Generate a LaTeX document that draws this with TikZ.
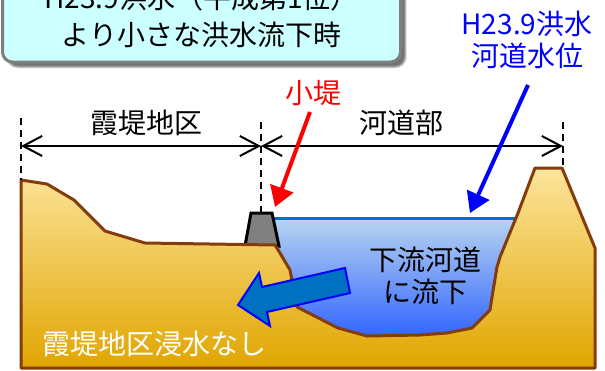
\documentclass[tikz,border=0pt]{standalone}
\usepackage{fontspec}
\newfontfamily\jp{Noto Sans CJK JP}
\usetikzlibrary{arrows.meta,shadows.blur}

\definecolor{titlefill}{HTML}{CCFFFF}
\definecolor{titleedge}{HTML}{7F7F7F}
\definecolor{soiledge}{HTML}{843C0C}
\definecolor{soiltop}{HTML}{FCE49C}
\definecolor{soilbot}{HTML}{E0A600}
\definecolor{watertop}{HTML}{B8D4F0}
\definecolor{waterbot}{HTML}{3366FF}
\definecolor{waterline}{HTML}{0070C0}
\definecolor{flowfill}{HTML}{0070C0}
\definecolor{leveegray}{HTML}{808080}

\begin{document}
\begin{tikzpicture}[x=1pt,y=-1pt,
  lbl/.style={inner sep=0pt, font=\jp\fontsize{28}{32}\selectfont},
  titlebox/.style={draw=titleedge, line width=3pt, fill=titlefill,
    rounded corners=10pt, minimum width=398pt, minimum height=92pt,
    inner sep=0pt, align=center, font=\jp\fontsize{28}{37}\selectfont,
    blur shadow={shadow xshift=5pt, shadow yshift=-5pt, shadow opacity=55}},
  soil/.style={draw=soiledge, line width=3pt, line join=round,
    top color=soiltop, bottom color=soilbot},
  water/.style={top color=watertop, bottom color=waterbot},
  surface/.style={draw=waterline, line width=3pt},
  levee/.style={draw=black, line width=3pt, fill=leveegray, line join=miter},
  flow/.style={draw=blue, line width=2pt, fill=flowfill, line join=miter},
  guide/.style={draw=black, line width=2pt, dash pattern=on 7pt off 5pt},
  dim/.style={draw=black, line width=2pt,
    {Straight Barb[length=19pt,width=20pt]}-{Straight Barb[length=19pt,width=20pt]}},
  ptr/.style={line width=4pt, -{Triangle[length=20pt,width=24pt]}}
]
\useasboundingbox (0,0) rectangle (605,370);

% heading box
\node[titlebox] (title) at (201.5,16) {H23.9洪水（平成第1位）\\より小さな洪水流下時};

% river water
\fill[water] (265,218) -- (522,218) -- (500,257) -- (497,267) -- (492,297)
  -- (490,310) -- (472,328) -- (447,333) -- (420,335) -- (367,336)
  -- (338,328) -- (297,307) -- (290,270) -- (280,253) -- (270,245) -- cycle;
\draw[surface] (272,218) -- (521,218);

% small levee
\draw[levee] (245,246) -- (251,213) -- (272,213) -- (279,246) -- cycle;

% ground profile
\draw[soil] (21,368) -- (21,180) -- (47,184) -- (74,200) -- (105,231)
  -- (145,243) -- (275,245) -- (280,253) -- (290,270) -- (297,307)
  -- (338,328) -- (367,336) -- (420,335) -- (447,333) -- (472,328)
  -- (490,310) -- (492,297) -- (497,267) -- (500,257) -- (518,213)
  -- (535,168) -- (562,168) -- (595,248) -- (595,368) -- cycle;

% flow towards the downstream channel
\draw[flow] (238,305) -- (259,273) -- (262,287) -- (345,268) -- (350,293)
  -- (267,312) -- (270,326) -- cycle;

% extent markers
\draw[guide] (21,118) -- (21,180);
\draw[guide] (261,122) -- (261,212);
\draw[guide] (563,122) -- (563,168);
\coordinate (dL) at (21,146);
\coordinate (dM) at (261,146);
\coordinate (dR) at (563,146);
\draw[dim] (dL) -- (dM);
\draw[dim] (dM) -- (dR);

% labels
\node[lbl] (zoneL) at (146,123) {霞堤地区};
\node[lbl] (zoneR) at (401,123) {河道部};
\node[lbl, text=red] (levlbl) at (313,93) {小堤};
\node[lbl, text=blue, align=center] (wl) at (527,40) {H23.9洪水\\河道水位};
\node[lbl, align=center] (flowlbl) at (425,276) {下流河道\\に流下};
\node[lbl, text=white] (safe) at (154,344) {霞堤地区浸水なし};

% pointers
\coordinate (redfrom) at (310,112);
\coordinate (levtip) at (275,207);
\coordinate (bluefrom) at (528,85);
\coordinate (wltip) at (470,213);
\draw[ptr, red] (redfrom) -- (levtip);
\draw[ptr, blue] (bluefrom) -- (wltip);
\end{tikzpicture}
\end{document}
